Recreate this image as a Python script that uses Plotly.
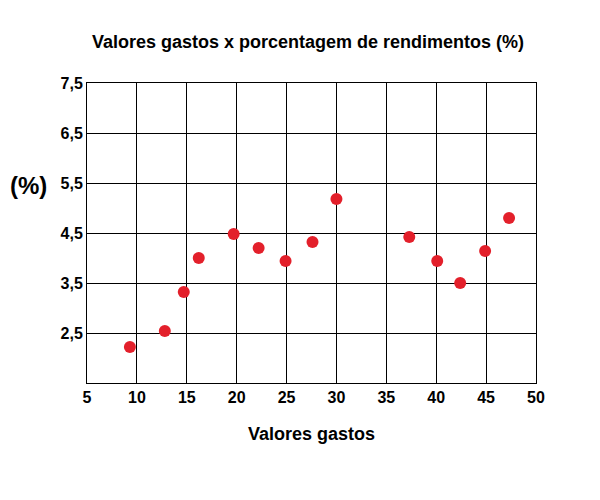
import plotly.graph_objects as go

gastos = [9.3, 12.8, 14.7, 16.2, 19.7, 22.2, 24.9, 27.6, 30.0, 37.3, 40.1, 42.4, 44.9, 47.3]
rend = [2.22, 2.54, 3.32, 4.0, 4.48, 4.2, 3.94, 4.32, 5.18, 4.42, 3.94, 3.5, 4.14, 4.8]
xticks = [5, 10, 15, 20, 25, 30, 35, 40, 45, 50]
yticks = [2.5, 3.5, 4.5, 5.5, 6.5, 7.5]
yticktext = ["2,5", "3,5", "4,5", "5,5", "6,5", "7,5"]

fig = go.Figure(go.Scatter(x=gastos, y=rend, mode="markers",
                           marker=dict(size=12, color="#e3202b")))
font = dict(family="Liberation Sans, Arial", color="black", size=16)
fig.update_layout(
    width=600, height=500, plot_bgcolor="white", paper_bgcolor="white",
    margin=dict(l=79, r=72, t=75, b=125), showlegend=False,
    title=dict(text="<b>Valores gastos x porcentagem de rendimentos (%)</b>",
               x=0.5, xanchor="center", y=0.945, font=dict(family="Liberation Sans, Arial", size=18, color="black")),
    font=font,
)
fig.update_xaxes(range=[5, 50], tickvals=xticks, ticktext=[f"<b>{v}</b>" for v in xticks],
                 showgrid=True, gridcolor="black", gridwidth=1, showline=True, linecolor="black",
                 mirror=True, zeroline=False, ticks="", ticklen=0,
                 title=dict(text="<b>Valores gastos</b>", standoff=22, font=dict(size=18)))
fig.update_yaxes(range=[1.5, 7.5], tickvals=yticks, ticktext=[f"<b>{t}</b>" for t in yticktext],
                 showgrid=True, gridcolor="black", gridwidth=1, showline=True, linecolor="black",
                 mirror=True, zeroline=False, ticks="")
fig.add_annotation(text="<b>(%)</b>", xref="paper", yref="paper", x=-0.175, y=0.66,
                   showarrow=False, font=dict(family="Liberation Sans, Arial", size=24, color="black"),
                   xanchor="left")
fig.write_html("out.html")
